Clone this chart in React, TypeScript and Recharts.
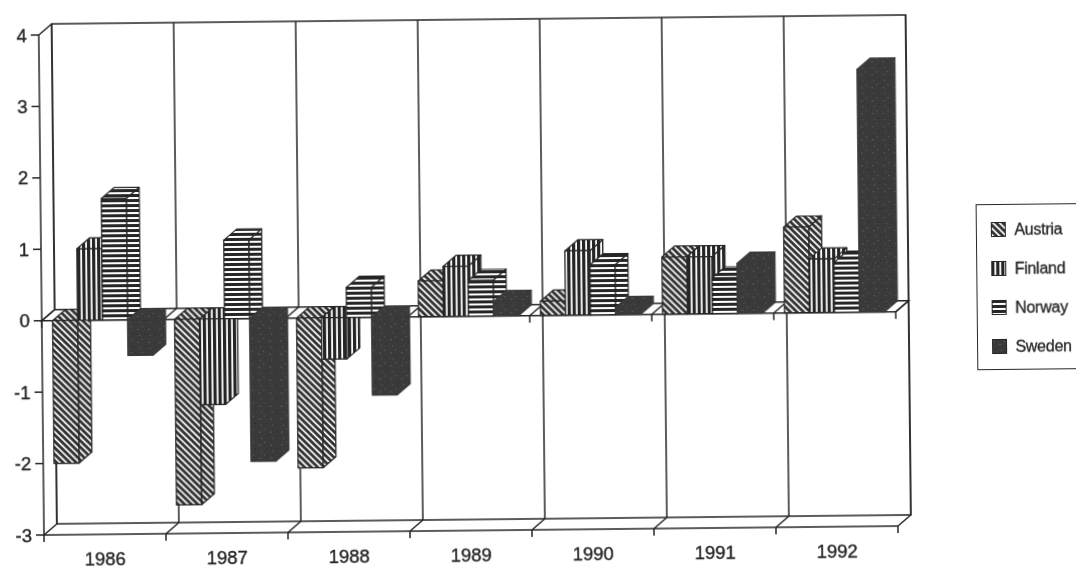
import React from "react";
import { BarChart, Bar, XAxis, YAxis, Legend, ReferenceArea } from "recharts";

const years = ["1986", "1987", "1988", "1989", "1990", "1991", "1992"];
const austria = [-2.0, -2.6, -2.1, 0.5, 0.2, 0.8, 1.2];
const finland = [1.0, -1.2, -0.58, 0.7, 0.9, 0.8, 0.75];
const norway = [1.7, 1.1, 0.42, 0.5, 0.7, 0.5, 0.7];
const sweden = [-0.5, -2.0, -1.09, 0.2, 0.1, 0.7, 3.4];
const yTicks = [-3, -2, -1, 0, 1, 2, 3, 4];

const rows = years.map((year, i) => ({
  year,
  Austria: austria[i],
  Finland: finland[i],
  Norway: norway[i],
  Sweden: sweden[i],
}));

const INK = "#262626";
const DARK = "#3a3a3a";
const DX = 13;
const DY = -11;
const BANDS = years.length;
const FONT = "'Liberation Sans', Arial, sans-serif";
const LINE = 1.5;

function Faces({ x, y, width, height, fill, edge }: any) {
  const top = Math.min(y, y + height);
  const h = Math.abs(height);
  const fx = x - 0.2;
  const common = { fill, stroke: edge || INK, strokeWidth: 1.2, strokeLinejoin: "round" as const };
  return (
    <g>
      <polygon
        {...common}
        points={`${fx + width},${top} ${fx + width + DX},${top + DY} ${fx + width + DX},${top + h + DY} ${fx + width},${top + h}`}
      />
      <polygon
        {...common}
        points={`${fx},${top} ${fx + DX},${top + DY} ${fx + width + DX},${top + DY} ${fx + width},${top}`}
      />
      <rect {...common} x={fx} y={top} width={width} height={h} />
    </g>
  );
}

function Walls({ x, y, width, height }: any) {
  const band = width / BANDS;
  const bottom = y + height;
  const idx = Array.from({ length: BANDS + 1 }, (_, i) => i);
  const line = { stroke: INK, strokeWidth: LINE };
  return (
    <g>
      <rect x={x + DX} y={y + DY} width={width} height={height} fill="#fff" {...line} />
      {idx.map((i) => (
        <g key={i}>
          <line x1={x + DX + i * band} x2={x + DX + i * band} y1={y + DY} y2={bottom + DY} {...line} />
          <line x1={x + i * band} x2={x + DX + i * band} y1={bottom} y2={bottom + DY} {...line} />
          <line x1={x + i * band} x2={x + i * band} y1={bottom} y2={bottom + 7} {...line} />
        </g>
      ))}
      <line x1={x} x2={x + DX} y1={y} y2={y + DY} {...line} />
    </g>
  );
}

function ZeroFloor({ x, y, width }: any) {
  const band = width / BANDS;
  const idx = Array.from({ length: BANDS + 1 }, (_, i) => i);
  const line = { stroke: INK, strokeWidth: LINE };
  return (
    <g>
      <polygon
        points={`${x},${y} ${x + width},${y} ${x + width + DX},${y + DY} ${x + DX},${y + DY}`}
        fill="#fff"
        {...line}
      />
      {idx.map((i) => (
        <g key={i}>
          <line x1={x + i * band} x2={x + DX + i * band} y1={y} y2={y + DY} {...line} />
          <line x1={x + i * band} x2={x + i * band} y1={y} y2={y + 7} {...line} />
        </g>
      ))}
    </g>
  );
}

function LegendBox({ payload }: any) {
  return (
    <div
      style={{
        width: 110,
        height: 166,
        boxSizing: "border-box",
        border: `1.5px solid ${INK}`,
        background: "#fff",
        fontFamily: FONT,
        fontSize: 16,
        color: INK,
        position: "relative",
        WebkitTextStroke: "0.3px #262626",
      }}
    >
      {(payload || []).map((entry: any, i: number) => (
        <div
          key={entry.value}
          style={{
            position: "absolute",
            left: 14,
            top: 15 + i * 39,
            height: 20,
            display: "flex",
            alignItems: "center",
            gap: 8,
            letterSpacing: "-0.25px",
          }}
        >
          <svg width={15} height={15}>
            <rect x={0.5} y={0.5} width={14} height={14} fill={entry.color} stroke={INK} />
          </svg>
          <span>{entry.value}</span>
        </div>
      ))}
    </div>
  );
}

const tickText = { fontFamily: FONT, fontSize: 18.5, fill: INK, stroke: INK, strokeWidth: 0.4 };

export default function App() {
  return (
    <div style={{ position: "fixed", left: 0, top: 0, width: 1076, height: 566, overflow: "hidden", background: "#fff" }}>
      <div style={{ position: "absolute", left: 0, top: 0, transformOrigin: "44px 535px", transform: "rotate(-0.6deg)", filter: "blur(0.45px)" }}>
        <BarChart
          width={1090}
          height={580}
          data={rows}
          margin={{ top: 35, right: 192, bottom: 0, left: 0 }}
          barSize={25}
          barGap={0}
        >
          <defs>
            <pattern id="pAustria" width="4.6" height="4.6" patternUnits="userSpaceOnUse" patternTransform="rotate(45)">
              <rect width="4.6" height="4.6" fill="#fff" />
              <rect width="4.6" height="2.9" fill="#333" />
            </pattern>
            <pattern id="pFinland" width="5" height="5" patternUnits="userSpaceOnUse">
              <rect width="5" height="5" fill="#fff" />
              <rect width="3.2" height="5" fill="#262626" />
            </pattern>
            <pattern id="pNorway" width="5" height="5" patternUnits="userSpaceOnUse">
              <rect width="5" height="5" fill="#fff" />
              <rect width="5" height="3" fill="#262626" />
            </pattern>
            <pattern id="pSweden" width="11" height="13" patternUnits="userSpaceOnUse">
              <rect width="11" height="13" fill={DARK} />
              <rect x="1" y="2" width="1" height="1" fill="#666" />
              <rect x="7" y="5" width="2" height="1" fill="#5a5a5a" />
              <rect x="3" y="9" width="1" height="1" fill="#262626" />
              <rect x="9" y="11" width="1" height="1" fill="#606060" />
            </pattern>
          </defs>
          <ReferenceArea y1={-3} y2={4} shape={<Walls />} ifOverflow="visible" />
          <ReferenceArea y1={-3} y2={0} shape={<ZeroFloor />} ifOverflow="visible" />
          <XAxis
            dataKey="year"
            height={45}
            tickLine={false}
            axisLine={{ stroke: INK, strokeWidth: LINE }}
            tickMargin={12}
            interval={0}
            tick={tickText}
          />
          <YAxis
            width={44}
            domain={[-3, 4]}
            ticks={yTicks}
            interval={0}
            axisLine={{ stroke: INK, strokeWidth: LINE }}
            tickLine={{ stroke: INK, strokeWidth: LINE }}
            tickSize={8}
            tickMargin={4}
            tick={tickText}
          />
          <Legend
            layout="vertical"
            align="center"
            verticalAlign="middle"
            content={<LegendBox />}
            wrapperStyle={{ left: 979.4, top: 213.8, width: 110, height: 166, right: "auto", bottom: "auto" }}
          />
          <Bar dataKey="Austria" fill="url(#pAustria)" shape={<Faces />} isAnimationActive={false} />
          <Bar dataKey="Finland" fill="url(#pFinland)" shape={<Faces />} isAnimationActive={false} />
          <Bar dataKey="Norway" fill="url(#pNorway)" shape={<Faces />} isAnimationActive={false} />
          <Bar dataKey="Sweden" fill="url(#pSweden)" shape={<Faces edge={DARK} />} isAnimationActive={false} />
        </BarChart>
      </div>
    </div>
  );
}
